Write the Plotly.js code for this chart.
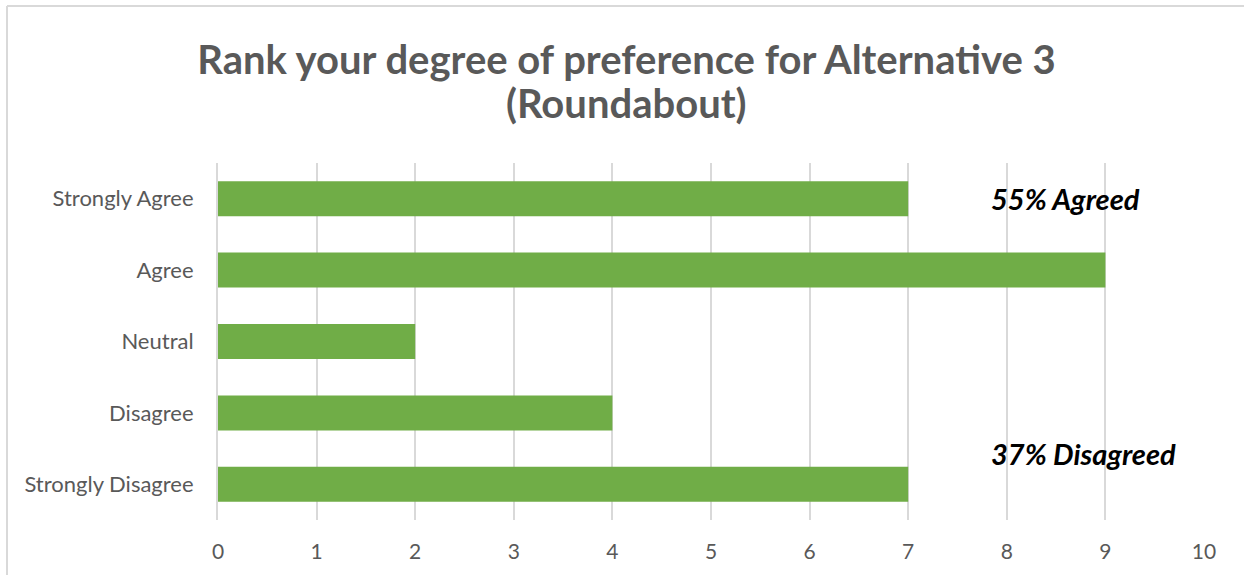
<!DOCTYPE html>
<html>
<head>
<meta charset="utf-8">
<script src="https://cdn.plot.ly/plotly-3.0.1.min.js"></script>
<style>
  html, body { margin: 0; padding: 0; background: #fff; }
  #chart { width: 1244px; height: 575px; }
</style>
</head>
<body>
<div id="chart"></div>
<script>
const categories = ["Strongly Agree", "Agree", "Neutral", "Disagree", "Strongly Disagree"];
const counts = [7, 9, 2, 4, 7];
const xTicks = [0, 1, 2, 3, 4, 5, 6, 7, 8, 9, 10];
const titleLine1 = "Rank your degree of preference for Alternative 3";
const titleLine2 = "(Roundabout)";
const noteAgreed = "55% Agreed";
const noteDisagreed = "37% Disagreed";

const FONT = "Lato, 'Open Sans', sans-serif";
const GREY = "#595959";
const GRID = "#d9d9d9";

const trace = {
  type: "bar",
  orientation: "h",
  x: counts,
  y: categories,
  marker: { color: "#70ad47", line: { width: 0 } },
  hoverinfo: "x+y"
};

const layout = {
  width: 1244,
  height: 575,
  margin: { l: 218, r: 40, t: 163, b: 55 },
  paper_bgcolor: "#ffffff",
  plot_bgcolor: "#ffffff",
  showlegend: false,
  bargap: 0.51,
  font: { family: FONT, color: GREY },
  title: {
    text: "<b>" + titleLine1 + "</b>",
    font: { family: FONT, size: 40, color: GREY },
    xref: "container", x: 0.5036, xanchor: "center",
    yref: "container", y: 0.896, yanchor: "middle"
  },
  xaxis: {
    range: [0, 10],
    tickvals: xTicks,
    ticktext: xTicks.map(String),
    showgrid: true,
    gridcolor: GRID,
    gridwidth: 1.5,
    zeroline: false,
    showline: false,
    ticks: "",
    ticklabelstandoff: 17,
    tickfont: { family: FONT, size: 21, color: GREY },
    fixedrange: true
  },
  yaxis: {
    type: "category",
    autorange: "reversed",
    showgrid: false,
    zeroline: false,
    showline: true,
    linecolor: GRID,
    linewidth: 2,
    ticks: "",
    ticklabelstandoff: 18,
    tickfont: { family: FONT, size: 22, color: GREY },
    fixedrange: true
  },
  annotations: [
    {
      text: "<b>" + titleLine2 + "</b>",
      xref: "paper", yref: "paper", x: 0.414, y: 1.168,
      xanchor: "center", yanchor: "middle", showarrow: false,
      font: { family: FONT, size: 40, color: GREY }
    },
    {
      text: "<b><i>" + noteAgreed + "</i></b>",
      xref: "x", yref: "y", x: 8.6, y: 0,
      xanchor: "center", yanchor: "middle", showarrow: false,
      font: { family: FONT, size: 29, color: "#000000" }
    },
    {
      text: "<b><i>" + noteDisagreed + "</i></b>",
      xref: "x", yref: "y", x: 8.78, y: 3.57,
      xanchor: "center", yanchor: "middle", showarrow: false,
      font: { family: FONT, size: 29, color: "#000000" }
    }
  ],
  shapes: [
    { type: "line", xref: "paper", yref: "paper", x0: -0.214, x1: -0.214, y0: -0.3, y1: 1.44,
      line: { color: GRID, width: 2 } },
    { type: "line", xref: "paper", yref: "paper", x0: -0.214, x1: 1.1, y0: 1.44, y1: 1.44,
      line: { color: GRID, width: 2 } }
  ]
};

Plotly.newPlot("chart", [trace], layout, { displayModeBar: false });
</script>
</body>
</html>
